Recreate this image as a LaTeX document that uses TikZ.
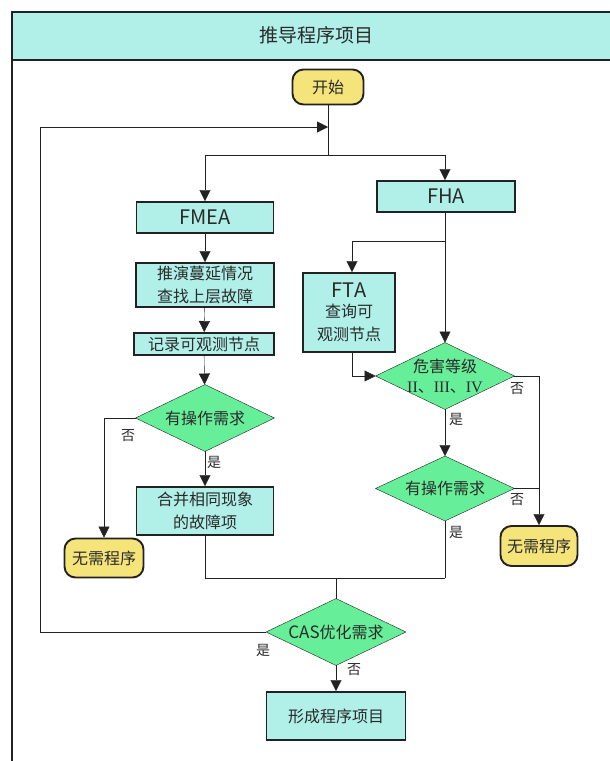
\documentclass[tikz,border=0pt]{standalone}
\usepackage{fontspec}
\setmainfont{Noto Sans CJK SC}
\newfontfamily\romanfont{Liberation Serif}
\usetikzlibrary{arrows.meta,calc,backgrounds}
\definecolor{boxcyan}{HTML}{B0F0E8}
\definecolor{decgreen}{HTML}{66EE99}
\definecolor{termyellow}{HTML}{F4E47A}
\definecolor{linec}{HTML}{222222}
\definecolor{textc}{HTML}{2A2A2A}
\newcommand\mydiamondshape[1]{\draw[draw=linec,fill=decgreen,line join=miter] (#1.north) -- (#1.east) -- (#1.south) -- (#1.west) -- cycle;}
\newcommand\biglatin[1]{{\fontsize{20}{23}\selectfont #1}}
\begin{document}
\begin{tikzpicture}[x=1pt,y=-1pt,line width=1.9pt,draw=linec,
  procbox/.style={draw=linec,fill=boxcyan,rectangle,inner sep=0pt,align=center,text=textc,font=\fontsize{16}{23}\selectfont},
  decbox/.style={rectangle,inner sep=0pt,align=center,text=textc,font=\fontsize{16}{20}\selectfont},
  termbox/.style={draw=linec,fill=termyellow,rectangle,rounded corners=11pt,inner sep=0pt,align=center,text=textc,font=\fontsize{16}{20}\selectfont},
  arr/.style={-{Triangle[length=11pt,width=11pt]}},
  lab/.style={text=textc,font=\fontsize{14}{16}\selectfont,inner sep=0pt}]
\useasboundingbox (0,0) rectangle (610,761);
\clip (0,0) rectangle (610,761);
% frame and title
\fill[boxcyan] (12,12) rectangle (620,60);
\draw[line width=2.2pt] (12,775) -- (12,12) -- (620,12);
\draw[line width=2.2pt] (12,60) -- (620,60);
\node[text=textc,font=\fontsize{19}{22}\selectfont] (title) at (316,35) {推导程序项目};
% nodes
\node[termbox,minimum width=71pt,minimum height=35pt] (start) at (328,87) {开始};
\node[procbox,minimum width=138pt,minimum height=31pt] (fha) at (446,196.5) {\biglatin{FHA}};
\node[procbox,minimum width=137pt,minimum height=31pt] (fmea) at (205,217.5) {\biglatin{FMEA}};
\node[procbox,minimum width=138pt,minimum height=44pt] (tuyan) at (205,285) {推演蔓延情况\\查找上层故障};
\node[procbox,minimum width=140pt,minimum height=22pt] (jilu) at (204,344) {记录可观测节点};
\node[decbox,minimum width=137pt,minimum height=65pt] (dec1) at (205,418) {有操作需求};
\node[procbox,minimum width=137pt,minimum height=48pt] (hebing) at (205,511) {合并相同现象\\的故障项};
\node[termbox,minimum width=79pt,minimum height=39pt] (none1) at (104,558) {无需程序};
\node[procbox,minimum width=92pt,minimum height=79pt] (fta) at (349,312.5) {\biglatin{FTA}\\[-3pt]查询可\\观测节点};
\node[decbox,minimum width=137pt,minimum height=65pt] (haz) at (445,376) {危害等级\\{\romanfont II}、{\romanfont III}、{\romanfont IV}};
\node[decbox,minimum width=137pt,minimum height=63pt] (dec2) at (445,488.5) {有操作需求};
\node[termbox,minimum width=77pt,minimum height=40pt] (none2) at (539,546) {无需程序};
\node[decbox,minimum width=138pt,minimum height=65pt] (cas) at (336,632) {{\fontsize{17}{20}\selectfont CAS}优化需求};
\node[procbox,minimum width=139pt,minimum height=48pt] (form) at (336,716) {形成程序项目};
\begin{pgfonlayer}{background}
\mydiamondshape{dec1}
\mydiamondshape{haz}
\mydiamondshape{dec2}
\mydiamondshape{cas}
\end{pgfonlayer}
% coordinates
\coordinate (split) at (328,155);
\coordinate (loopin) at (328,127);
\coordinate (loopcorner) at (40,632);
\coordinate (fhasplit) at (445,241);
\coordinate (joinr) at (445,578);
\coordinate (joinc) at (336,578);
\coordinate (rightc) at (539,488.5);
% connectors
\draw (start) -- (split);
\draw[arr] (split) -| (fmea.north);
\draw[arr] (split) -| (haz.north |- fha.north);
\draw[arr] (fmea) -- (tuyan);
\draw[arr] (tuyan) -- (jilu);
\draw[arr] (jilu) -- (dec1);
\draw[arr] (dec1.west) -| (none1.north);
\draw[arr] (dec1) -- (hebing);
\draw (hebing.south) |- (joinr);
\draw (dec2.south) -- (joinr);
\draw (joinc) -- (cas.north);
\draw[arr] (fhasplit) -| ($(fta.north)+(3,0)$);
\draw[arr] (haz.north |- fha.south) -- (haz.north);
\draw[arr] ($(fta.south)+(3,0)$) |- (haz.west);
\draw[arr] (haz) -- (dec2);
\draw[arr] (haz.east) -| (none2.north);
\draw (dec2.east) -- (rightc);
\draw[arr] (cas.west) -- (loopcorner) |- (loopin);
\draw[arr] (cas) -- (form);
% labels
\node[lab] (l1) at (128,436) {否};
\node[lab] (l2) at (214,462) {是};
\node[lab] (l3) at (517,389) {否};
\node[lab] (l4) at (456,419) {是};
\node[lab] (l5) at (517,500) {否};
\node[lab] (l6) at (456,532) {是};
\node[lab] (l7) at (263,650) {是};
\node[lab] (l8) at (354,670) {否};
\end{tikzpicture}
\end{document}
